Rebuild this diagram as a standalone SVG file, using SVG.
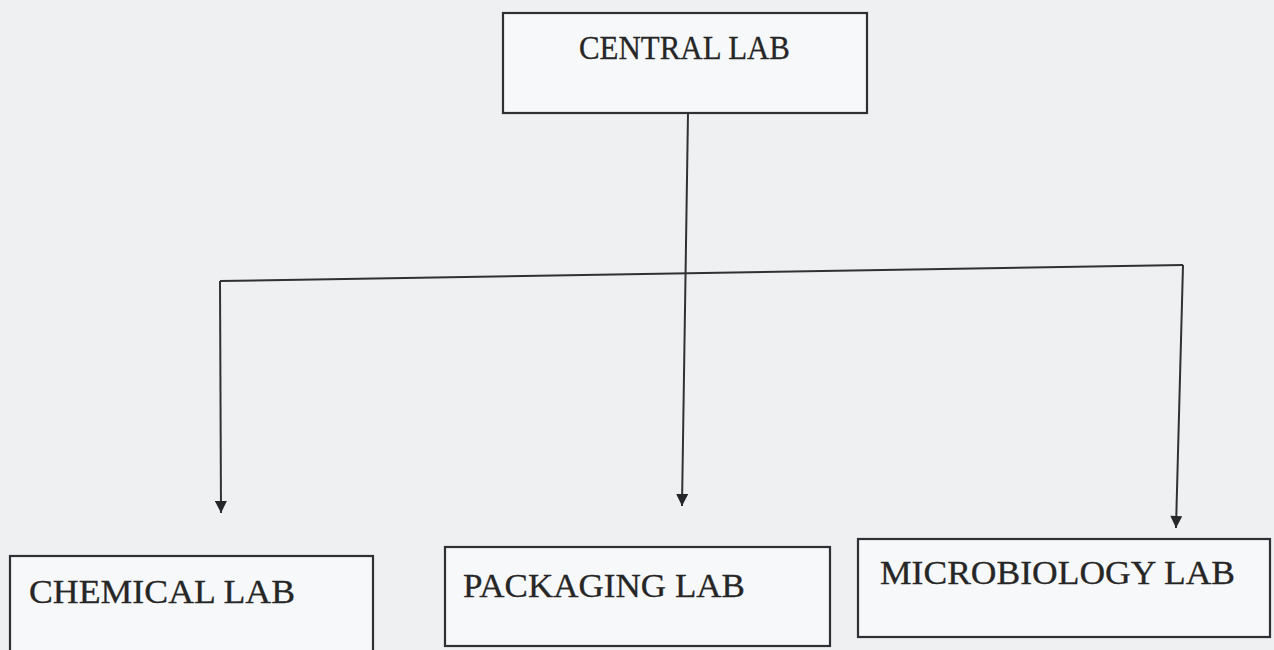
<svg xmlns="http://www.w3.org/2000/svg" width="1274" height="650" viewBox="0 0 1274 650">
  <defs>
    <style>
      .box { fill: #f7f8f9; stroke: #2f3033; stroke-width: 2.2; }
      .lbl { font-family: "Liberation Serif", "Times New Roman", serif; fill: #262626; stroke: #262626; stroke-width: 0.3; font-size: 34px; }
      .conn { fill: none; stroke: #303134; stroke-width: 2; }
    </style>
    <marker id="arrow" viewBox="0 0 10 10" refX="10" refY="5" markerWidth="13" markerHeight="12" markerUnits="userSpaceOnUse" orient="auto">
      <path d="M0,0 L10,5 L0,10 z" fill="#26272a"/>
    </marker>
  </defs>
  <rect x="0" y="0" width="1274" height="650" fill="#eef0f2"/>

  <g id="central-lab">
    <rect class="box" x="503" y="13" width="364" height="100"/>
    <text class="lbl" x="579" y="59" textLength="211" lengthAdjust="spacingAndGlyphs">CENTRAL LAB</text>
  </g>

  <g id="chemical-lab">
    <rect class="box" x="10" y="556" width="363" height="100"/>
    <text class="lbl" x="29" y="603" textLength="266" lengthAdjust="spacingAndGlyphs">CHEMICAL LAB</text>
  </g>

  <g id="packaging-lab">
    <rect class="box" x="445" y="547" width="385" height="99"/>
    <text class="lbl" x="463" y="597" textLength="282" lengthAdjust="spacingAndGlyphs">PACKAGING LAB</text>
  </g>

  <g id="microbiology-lab">
    <rect class="box" x="858" y="539" width="412" height="98"/>
    <text class="lbl" x="880" y="584" textLength="355" lengthAdjust="spacingAndGlyphs">MICROBIOLOGY LAB</text>
  </g>

  <g id="connectors">
    <path class="conn" d="M688,113 L682,506" marker-end="url(#arrow)"/>
    <path class="conn" d="M220,281 L1183,265"/>
    <path class="conn" d="M220,281 L221,513" marker-end="url(#arrow)"/>
    <path class="conn" d="M1183,265 L1176,528" marker-end="url(#arrow)"/>
  </g>
</svg>
